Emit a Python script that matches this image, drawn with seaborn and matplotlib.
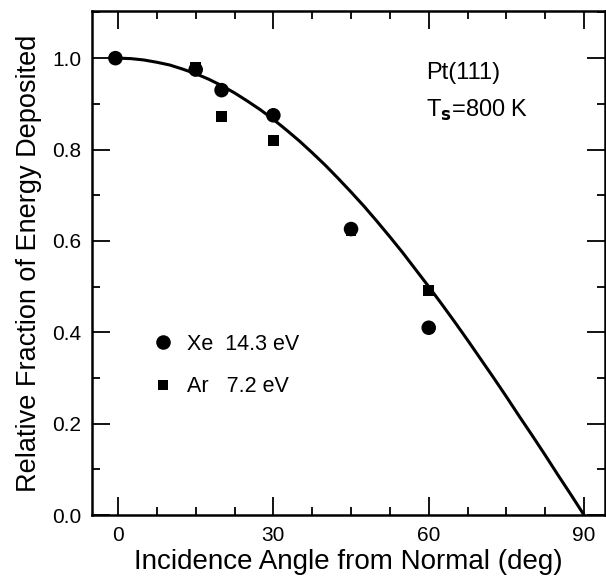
import numpy as np
import pandas as pd
import matplotlib
matplotlib.use('Agg')
import matplotlib.pyplot as plt
from matplotlib.ticker import MultipleLocator
import seaborn as sns

# --- data ---
xe_angle = [-0.5, 15, 20, 30, 45, 60]
xe_frac = [1.0, 0.975, 0.93, 0.875, 0.626, 0.41]
ar_angle = [15, 20, 30, 45, 60]
ar_frac = [0.98, 0.873, 0.82, 0.622, 0.492]

curve_angle = [0, 2.5, 5, 7.5, 10, 12.5, 15, 17.5, 20, 22.5, 25, 27.5, 30, 32.5, 35,
               37.5, 40, 42.5, 45, 47.5, 50, 52.5, 55, 57.5, 60, 62.5, 65, 67.5, 70,
               72.5, 75, 77.5, 80, 82.5, 85, 87.5, 90]
curve_frac = [1.0, 0.999, 0.996, 0.991, 0.985, 0.976, 0.966, 0.954, 0.94, 0.924,
              0.906, 0.887, 0.866, 0.843, 0.819, 0.793, 0.766, 0.737, 0.707, 0.676,
              0.643, 0.609, 0.574, 0.537, 0.5, 0.462, 0.423, 0.383, 0.342, 0.301,
              0.259, 0.216, 0.174, 0.131, 0.087, 0.044, 0.0]

x_ticks = [0, 30, 60, 90]
y_ticks = [0.0, 0.2, 0.4, 0.6, 0.8, 1.0]

pts = pd.DataFrame({
    'angle': xe_angle + ar_angle,
    'frac': xe_frac + ar_frac,
    'gas': ['Xe  14.3 eV'] * len(xe_angle) + ['Ar   7.2 eV'] * len(ar_angle),
})
curve = pd.DataFrame({'angle': curve_angle, 'frac': curve_frac})

sns.set_style('ticks')
plt.rcParams['font.family'] = ['Liberation Sans', 'DejaVu Sans']
plt.rcParams['text.color'] = 'black'
plt.rcParams['axes.labelcolor'] = 'black'
plt.rcParams['xtick.color'] = 'black'
plt.rcParams['ytick.color'] = 'black'

fig = plt.figure(figsize=(6.06, 5.84), dpi=100)
ax = fig.add_axes([0.152, 0.118, 0.846, 0.863])

sns.lineplot(data=curve, x='angle', y='frac', color='black', lw=2.2, ax=ax,
             legend=False, sort=False)
sns.scatterplot(data=pts, x='angle', y='frac', style='gas',
                markers={'Xe  14.3 eV': 'o', 'Ar   7.2 eV': 's'},
                size='gas', sizes={'Xe  14.3 eV': 110, 'Ar   7.2 eV': 60},
                color='black', edgecolor='black', linewidth=0, ax=ax)

ax.set_xlim(-5, 94)
ax.set_ylim(0, 1.103)
ax.set_xticks(x_ticks)
ax.set_yticks(y_ticks)
ax.set_yticklabels([f'{v:.1f}' for v in y_ticks])
ax.xaxis.set_minor_locator(MultipleLocator(7.5))
ax.yaxis.set_minor_locator(MultipleLocator(0.1))
ax.tick_params(which='both', direction='in', top=True, right=True, width=1.3,
               labelsize=15, color='black', labelcolor='black')
ax.tick_params(which='major', length=13, pad=8)
ax.tick_params(which='minor', length=6)
for s in ax.spines.values():
    s.set_linewidth(1.8)
    s.set_color('black')

ax.set_xlabel('Incidence Angle from Normal (deg)', fontsize=20, labelpad=3)
ax.set_ylabel('Relative Fraction of Energy Deposited', fontsize=19.5, labelpad=7)

ax.text(59.5, 0.967, 'Pt(111)', fontsize=17, va='center', ha='left')
ax.text(59.5, 0.885, r'T$_\mathbf{s}$=800 K', fontsize=17, va='center', ha='left')

ax.legend(loc='lower left', bbox_to_anchor=(0.075, 0.212), frameon=False,
          fontsize=15.5, handletextpad=0.1, labelspacing=1.0, borderpad=0)

plt.savefig('out.png', dpi=100)
